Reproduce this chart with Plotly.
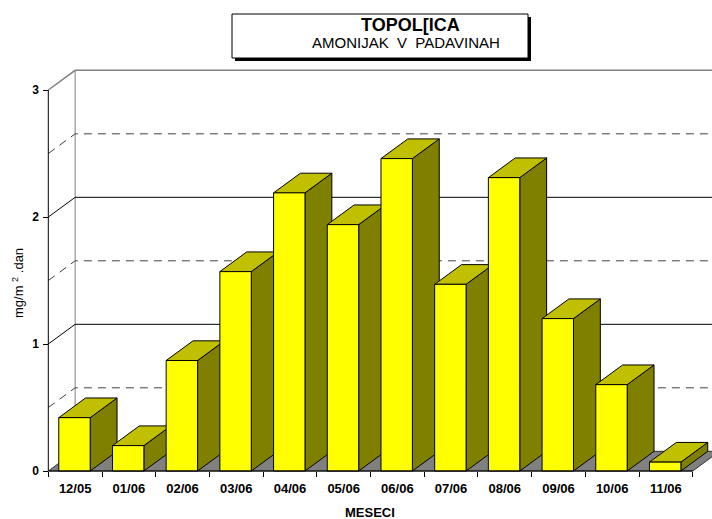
import plotly.graph_objects as go

# data
months = ["12/05", "01/06", "02/06", "03/06", "04/06", "05/06",
          "06/06", "07/06", "08/06", "09/06", "10/06", "11/06"]
values = [0.42, 0.20, 0.87, 1.57, 2.19, 1.94, 2.46, 1.47, 2.31, 1.20, 0.68, 0.07]
y_ticks = [0, 1, 2, 3]
major_levels = [1, 2]
minor_levels = [0.5, 1.5, 2.5]
top_level = 3

W, H = 712, 519
X0_PX, Y0_PX = 48.3, 471       # pixel position of the front origin
CAT_PX, UNIT_PX = 53.7, 127    # pixels per category / per value unit
DX, DY = 0.5, 0.155            # 3d depth offset (categories, value units)
BAR_OFF, BAR_W = 0.195, 0.585

FRONT = "#FFFF00"
TOP = "#C0C000"
SIDE = "#808000"
FLOOR = "#808080"

fig = go.Figure()


def poly(xs, ys, fill, line="black", width=1):
    fig.add_trace(go.Scatter(x=xs + [xs[0]], y=ys + [ys[0]], mode="lines", fill="toself",
                             fillcolor=fill, line=dict(color=line, width=width),
                             hoverinfo="skip", showlegend=False))


def seg(xs, ys, color="black", dash="solid", width=1):
    fig.add_trace(go.Scatter(x=xs, y=ys, mode="lines",
                             line=dict(color=color, width=width, dash=dash),
                             hoverinfo="skip", showlegend=False))


def label(px, py, text, size, angle=0):
    fig.add_annotation(x=px / W, y=1 - py / H, xref="paper", yref="paper",
                       xanchor="center", yanchor="middle", text=text, textangle=angle,
                       showarrow=False, font=dict(size=size, color="black"))


n = len(months)
x_end = n + DX + 1

# floor
poly([0, n, n + DX, DX], [0, 0, DY, DY], FLOOR, line="#303030")

# back wall and left wall lines
seg([DX, DX], [DY, top_level + DY], color="#808080")
for v in minor_levels:
    seg([0, DX, x_end], [v, v + DY, v + DY], color="#404040", dash="8px,6px")
for v in major_levels:
    seg([0, DX, x_end], [v, v + DY, v + DY], color="#000000")
seg([0, DX, x_end], [top_level, top_level + DY, top_level + DY], color="#808080", width=1.5)

# bars
for i, v in enumerate(values):
    x0 = i + BAR_OFF
    x1 = x0 + BAR_W
    poly([x1, x1 + DX, x1 + DX, x1], [0, DY, v + DY, v], SIDE)
    poly([x0, x1, x1 + DX, x0 + DX], [v, v, v + DY, v + DY], TOP)
    poly([x0, x1, x1, x0], [0, 0, v, v], FRONT)

# axis lines
seg([0, 0], [0, top_level])
seg([0, n], [0, 0])

fig.update_layout(
    width=W, height=H,
    margin=dict(l=0, r=0, t=0, b=0),
    paper_bgcolor="white", plot_bgcolor="white",
    showlegend=False,
    font=dict(family="Arial, Liberation Sans, sans-serif", color="black"),
    xaxis=dict(range=[-X0_PX / CAT_PX, (W - X0_PX) / CAT_PX],
               anchor="free", position=1 - Y0_PX / H, automargin=False,
               showgrid=False, zeroline=False, showline=False,
               tickvals=[i + 0.5 for i in range(n)], ticktext=months, ticks="",
               ticklabelstandoff=8,
               tickfont=dict(size=13, weight="bold", color="black"),
               minor=dict(tickvals=list(range(n + 1)), ticks="outside", ticklen=5,
                          tickcolor="black", tickwidth=1, showgrid=False)),
    yaxis=dict(range=[-(H - Y0_PX) / UNIT_PX, Y0_PX / UNIT_PX],
               anchor="free", position=X0_PX / W, automargin=False,
               showgrid=False, zeroline=False, showline=False,
               tickvals=y_ticks, ticks="outside", ticklen=5, tickcolor="black",
               ticklabelstandoff=2,
               tickfont=dict(size=12, weight="bold", color="black")),
)

# title box with shadow
fig.add_shape(type="rect", xref="paper", yref="paper",
              x0=235 / W, x1=531 / W, y0=1 - 61 / H, y1=1 - 17 / H,
              fillcolor="black", line=dict(width=0))
fig.add_shape(type="rect", xref="paper", yref="paper",
              x0=232 / W, x1=528 / W, y0=1 - 58 / H, y1=1 - 14 / H,
              fillcolor="white", line=dict(color="black", width=1))
label(410, 25, "<b>TOPOL[ICA</b>", 18)
label(406, 43, "AMONIJAK  V  PADAVINAH", 15)

# axis titles
label(370, 512, "<b>MESECI</b>", 13)
label(18, 283, "mg/m <sup>2</sup> .dan", 13, angle=-90)

fig.write_html("out.html", config={"displayModeBar": False},
               post_script="document.body.style.margin = '0';")
